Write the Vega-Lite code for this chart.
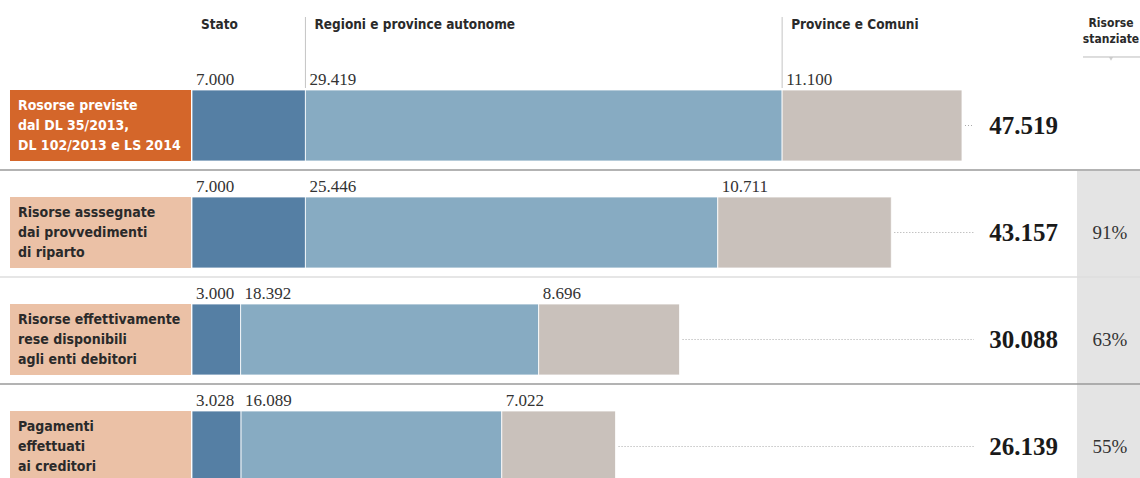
{
  "$schema": "https://vega.github.io/schema/vega-lite/v6.json",
  "width": 1140,
  "height": 478,
  "autosize": {"type": "none"},
  "padding": 0,
  "background": "#ffffff",
  "config": {
    "view": {"stroke": null},
    "locale": {"number": {"decimal": ",", "thousands": ".", "grouping": [3], "currency": ["€", ""]}}
  },
  "datasets": {
    "seg": [
      {"row": "r1", "cat": "Stato", "value": 7000},
      {"row": "r1", "cat": "Regioni e province autonome", "value": 29419},
      {"row": "r1", "cat": "Province e Comuni", "value": 11100},
      {"row": "r2", "cat": "Stato", "value": 7000},
      {"row": "r2", "cat": "Regioni e province autonome", "value": 25446},
      {"row": "r2", "cat": "Province e Comuni", "value": 10711},
      {"row": "r3", "cat": "Stato", "value": 3000},
      {"row": "r3", "cat": "Regioni e province autonome", "value": 18392},
      {"row": "r3", "cat": "Province e Comuni", "value": 8696},
      {"row": "r4", "cat": "Stato", "value": 3028},
      {"row": "r4", "cat": "Regioni e province autonome", "value": 16089},
      {"row": "r4", "cat": "Province e Comuni", "value": 7022}
    ],
    "rows": [
      {"row": "r1", "n": 1, "label": "Rosorse previste\ndal DL 35/2013,\nDL 102/2013 e LS 2014", "pct": null},
      {"row": "r2", "n": 2, "label": "Risorse asssegnate\ndai provvedimenti\ndi riparto", "pct": 0.9082},
      {"row": "r3", "n": 3, "label": "Risorse effettivamente\nrese disponibili\nagli enti debitori", "pct": 0.6332},
      {"row": "r4", "n": 4, "label": "Pagamenti\neffettuati\nai creditori", "pct": 0.5501}
    ]
  },
  "layer": [
    {
      "data": {"name": "rows"},
      "transform": [{"filter": "datum.n > 1"}],
      "mark": {"type": "bar", "color": "#e4e4e4", "height": {"band": 1.507}, "yOffset": -8},
      "encoding": {
        "x": {"datum": 54616, "type": "quantitative", "scale": {"domain": [-11849, 58504], "nice": false, "zero": false}, "axis": null},
        "x2": {"datum": 58504},
        "y": {"field": "row", "type": "nominal", "scale": {"domain": ["r1", "r2", "r3", "r4"], "range": [72, 500], "paddingInner": 0.3364, "paddingOuter": 0.1682}, "axis": null}
      }
    },
    {
      "data": {"name": "rows"},
      "transform": [{"filter": "datum.n > 1"}],
      "mark": {"type": "rule", "strokeWidth": 1.5, "yOffset": -27},
      "encoding": {
        "y": {"field": "row", "type": "nominal", "bandPosition": 0, "axis": null},
        "color": {"condition": {"test": "datum.n == 3", "value": "#dedede"}, "value": "#9a9a9a"}
      }
    },
    {
      "data": {"name": "rows"},
      "mark": {"type": "bar"},
      "encoding": {
        "x": {"datum": -11232, "type": "quantitative"},
        "x2": {"datum": -62},
        "y": {"field": "row", "type": "nominal", "axis": null},
        "color": {"condition": {"test": "datum.n == 1", "value": "#d4662a"}, "value": "#ebc1a6"}
      }
    },
    {
      "data": {"name": "rows"},
      "mark": {"type": "text", "align": "left", "baseline": "middle", "dy": -20, "lineBreak": "\n", "lineHeight": 20, "font": "DejaVu Sans Condensed, sans-serif", "fontWeight": "bold", "fontSize": 14},
      "encoding": {
        "x": {"datum": -10738, "type": "quantitative"},
        "y": {"field": "row", "type": "nominal", "axis": null},
        "text": {"field": "label", "type": "nominal"},
        "color": {"condition": {"test": "datum.n == 1", "value": "#ffffff"}, "value": "#2a2a2a"}
      }
    },
    {
      "data": {"name": "seg"},
      "transform": [{"stack": "value", "groupby": ["row"], "sort": [{"field": "cat", "order": "descending"}], "as": ["x0", "x1"]}],
      "mark": {"type": "bar", "stroke": "#ffffff", "strokeWidth": 0.8},
      "encoding": {
        "x": {"field": "x0", "type": "quantitative"},
        "x2": {"field": "x1"},
        "y": {"field": "row", "type": "nominal", "axis": null},
        "color": {"field": "cat", "type": "nominal", "scale": {"domain": ["Stato", "Regioni e province autonome", "Province e Comuni"], "range": ["#557fa4", "#87abc2", "#c9c1bb"]}, "legend": null}
      }
    },
    {
      "data": {"name": "seg"},
      "transform": [{"stack": "value", "groupby": ["row"], "sort": [{"field": "cat", "order": "descending"}], "as": ["x0", "x1"]}],
      "mark": {"type": "text", "align": "left", "baseline": "alphabetic", "dx": 4, "dy": -5, "font": "Liberation Serif, serif", "fontSize": 17, "color": "#333333"},
      "encoding": {
        "x": {"field": "x0", "type": "quantitative"},
        "y": {"field": "row", "type": "nominal", "bandPosition": 0, "axis": null},
        "text": {"field": "value", "type": "quantitative", "format": ","}
      }
    },
    {
      "data": {"name": "seg"},
      "transform": [
        {"stack": "value", "groupby": ["row"], "sort": [{"field": "cat", "order": "descending"}], "as": ["x0", "x1"]},
        {"filter": "datum.row == 'r1'"}
      ],
      "mark": {"type": "text", "align": "left", "baseline": "alphabetic", "dx": 9, "dy": -61, "font": "DejaVu Sans Condensed, sans-serif", "fontWeight": "bold", "fontSize": 13.5, "color": "#2a2a2a"},
      "encoding": {
        "x": {"field": "x0", "type": "quantitative"},
        "y": {"field": "row", "type": "nominal", "bandPosition": 0, "axis": null},
        "text": {"field": "cat", "type": "nominal"}
      }
    },
    {
      "data": {"name": "seg"},
      "transform": [
        {"stack": "value", "groupby": ["row"], "sort": [{"field": "cat", "order": "descending"}], "as": ["x0", "x1"]},
        {"filter": "datum.row == 'r1' && datum.cat != 'Stato'"}
      ],
      "mark": {"type": "rule", "color": "#c4c4c4", "strokeWidth": 1, "yOffset": -73, "y2Offset": -2},
      "encoding": {
        "x": {"field": "x0", "type": "quantitative"},
        "y": {"field": "row", "type": "nominal", "bandPosition": 0, "axis": null},
        "y2": {"field": "row", "bandPosition": 0}
      }
    },
    {
      "data": {"name": "seg"},
      "transform": [{"aggregate": [{"op": "sum", "field": "value", "as": "total"}], "groupby": ["row"]}],
      "mark": {"type": "rule", "color": "#a8a8a8", "strokeWidth": 1, "strokeDash": [1, 2], "xOffset": 3},
      "encoding": {
        "x": {"field": "total", "type": "quantitative"},
        "x2": {"datum": 48260},
        "y": {"field": "row", "type": "nominal", "axis": null}
      }
    },
    {
      "data": {"name": "seg"},
      "transform": [{"aggregate": [{"op": "sum", "field": "value", "as": "total"}], "groupby": ["row"]}],
      "mark": {"type": "text", "align": "right", "baseline": "middle", "font": "Liberation Serif, serif", "fontWeight": "bold", "fontSize": 25, "color": "#1a1a1a"},
      "encoding": {
        "x": {"datum": 53444, "type": "quantitative"},
        "y": {"field": "row", "type": "nominal", "axis": null},
        "text": {"field": "total", "type": "quantitative", "format": ","}
      }
    },
    {
      "data": {"name": "rows"},
      "transform": [{"filter": "datum.n > 1"}],
      "mark": {"type": "text", "align": "center", "baseline": "middle", "font": "Liberation Serif, serif", "fontSize": 19, "color": "#333333"},
      "encoding": {
        "x": {"datum": 56653, "type": "quantitative"},
        "y": {"field": "row", "type": "nominal", "axis": null},
        "text": {"field": "pct", "type": "quantitative", "format": ".0%"}
      }
    },
    {
      "data": {"name": "rows"},
      "transform": [{"filter": "datum.n == 1"}],
      "mark": {"type": "text", "align": "center", "baseline": "alphabetic", "dy": -63, "lineHeight": 16, "font": "DejaVu Sans Condensed, sans-serif", "fontWeight": "bold", "fontSize": 12, "color": "#2a2a2a"},
      "encoding": {
        "x": {"datum": 56715, "type": "quantitative"},
        "y": {"field": "row", "type": "nominal", "bandPosition": 0, "axis": null},
        "text": {"value": ["Risorse", "stanziate"]}
      }
    },
    {
      "data": {"name": "rows"},
      "transform": [{"filter": "datum.n == 1"}],
      "mark": {"type": "rule", "color": "#bbbbbb", "strokeWidth": 1, "yOffset": -33},
      "encoding": {
        "x": {"datum": 54986, "type": "quantitative"},
        "x2": {"datum": 58504},
        "y": {"field": "row", "type": "nominal", "bandPosition": 0, "axis": null}
      }
    },
    {
      "data": {"name": "rows"},
      "transform": [{"filter": "datum.n == 1"}],
      "mark": {"type": "point", "shape": "triangle-down", "filled": true, "color": "#bbbbbb", "size": 16, "yOffset": -31},
      "encoding": {
        "x": {"datum": 56715, "type": "quantitative"},
        "y": {"field": "row", "type": "nominal", "bandPosition": 0, "axis": null}
      }
    }
  ]
}
